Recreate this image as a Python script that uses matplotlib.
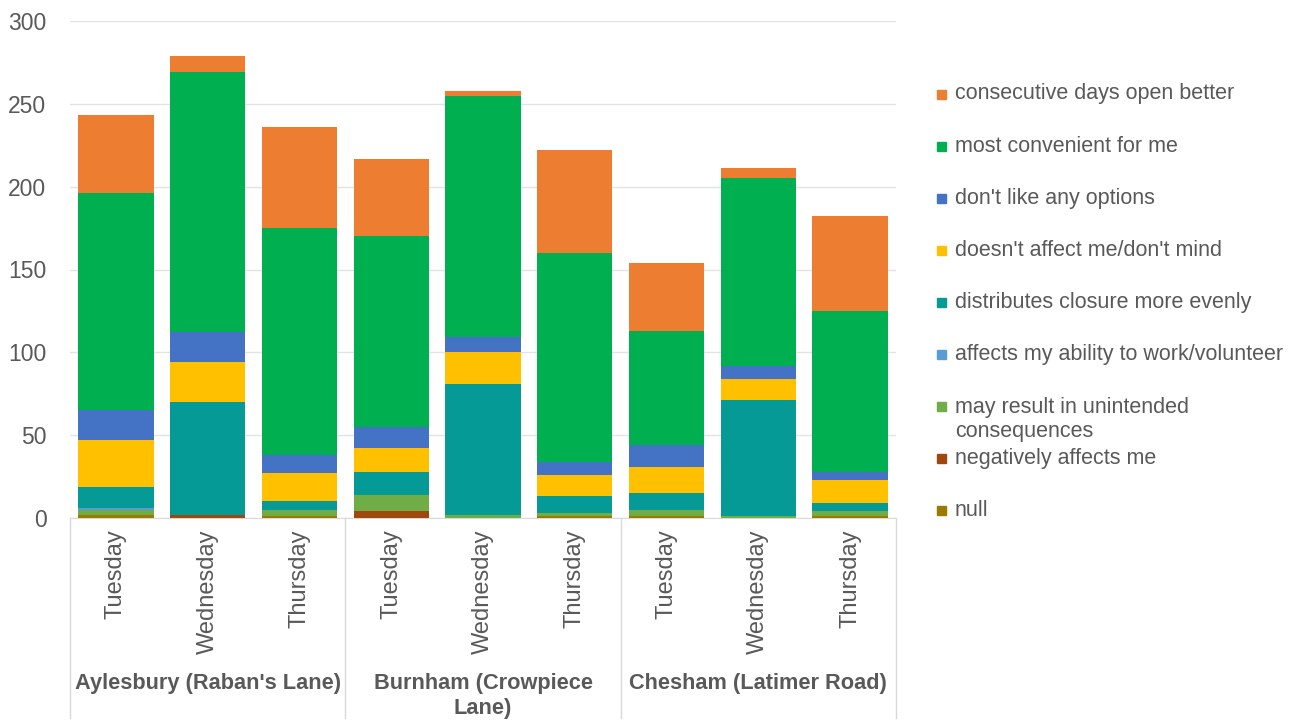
import matplotlib.pyplot as plt
import numpy as np
from matplotlib.patches import Rectangle
from matplotlib.transforms import blended_transform_factory

plt.rcParams['font.family'] = ['Liberation Sans', 'DejaVu Sans']

days = ['Tuesday', 'Wednesday', 'Thursday'] * 3
sites = ["Aylesbury (Raban's Lane)", 'Burnham (Crowpiece\nLane)', 'Chesham (Latimer Road)']

# stacked bottom -> top
null = [2, 0, 1, 0, 0, 1, 1, 0, 1]
negatively = [0, 2, 0, 4, 0, 0, 0, 0, 0]
unintended = [3, 0, 4, 10, 2, 2, 4, 1, 3]
ability = [1, 0, 0, 0, 0, 0, 0, 0, 0]
evenly = [13, 68, 5, 14, 79, 10, 10, 70, 5]
dont_mind = [28, 24, 17, 14, 19, 13, 16, 13, 14]
dont_like = [18, 18, 11, 13, 9, 8, 13, 8, 5]
convenient = [131, 157, 137, 115, 146, 126, 69, 113, 97]
consecutive = [47, 10, 61, 47, 3, 62, 41, 6, 57]

series = [
    ('null', null, '#9C7A00'),
    ('negatively affects me', negatively, '#9E480E'),
    ('may result in unintended\nconsequences', unintended, '#70AD47'),
    ('affects my ability to work/volunteer', ability, '#5B9BD5'),
    ('distributes closure more evenly', evenly, '#069A97'),
    ("doesn't affect me/don't mind", dont_mind, '#FFC000'),
    ("don't like any options", dont_like, '#4472C4'),
    ('most convenient for me', convenient, '#00B050'),
    ('consecutive days open better', consecutive, '#ED7D31'),
]

W, H = 1301, 720
fig = plt.figure(figsize=(W / 100, H / 100), dpi=100)
ax = fig.add_axes([70 / W, 202 / H, 826 / W, 497 / H])

x = np.arange(len(days))
bottom = np.zeros(len(days))
for name, vals, col in series:
    ax.bar(x, vals, 0.82, bottom=bottom, color=col, label=name, zorder=3)
    bottom += np.array(vals)

ax.set_xlim(-0.5, 8.5)
ax.set_ylim(0, 300)
ax.set_yticks(range(0, 301, 50))
ax.grid(axis='y', color='#E3E3E3', linewidth=1, zorder=0)
for s in ['top', 'right', 'left']:
    ax.spines[s].set_visible(False)
ax.spines['bottom'].set_color('#D9D9D9')
ax.tick_params(axis='y', length=0, pad=17, labelsize=16.5, labelcolor='#595959')
ax.set_xticks(x)
ax.set_xticklabels(days, rotation=90, fontsize=17, color='#595959', va='top')
ax.tick_params(axis='x', length=0, pad=8)

tr = blended_transform_factory(ax.transData, ax.transAxes)
for xs in [-0.5, 2.5, 5.5, 8.5]:
    ax.plot([xs, xs], [0, -200 / 497], color='#D9D9D9', linewidth=1,
            transform=tr, clip_on=False)
for i, name in enumerate(sites):
    ax.text(3 * i + 1, -155 / 497, name, transform=tr, ha='center', va='top',
            fontsize=15.7, fontweight='bold', color='#595959', linespacing=1.25)

# legend, top entry first
for k, (name, vals, col) in enumerate(series[::-1]):
    yc = 94 + 52.1 * k
    fig.patches.append(Rectangle((937 / W, 1 - (yc + 4.5) / H), 9 / W, 9 / H,
                                 color=col, transform=fig.transFigure))
    ty = yc + 12.5 if '\n' in name else yc
    fig.text(955 / W, 1 - ty / H, name, ha='left', va='center', fontsize=15.5,
             color='#595959', linespacing=1.2)

plt.savefig('out.png', dpi=100)
